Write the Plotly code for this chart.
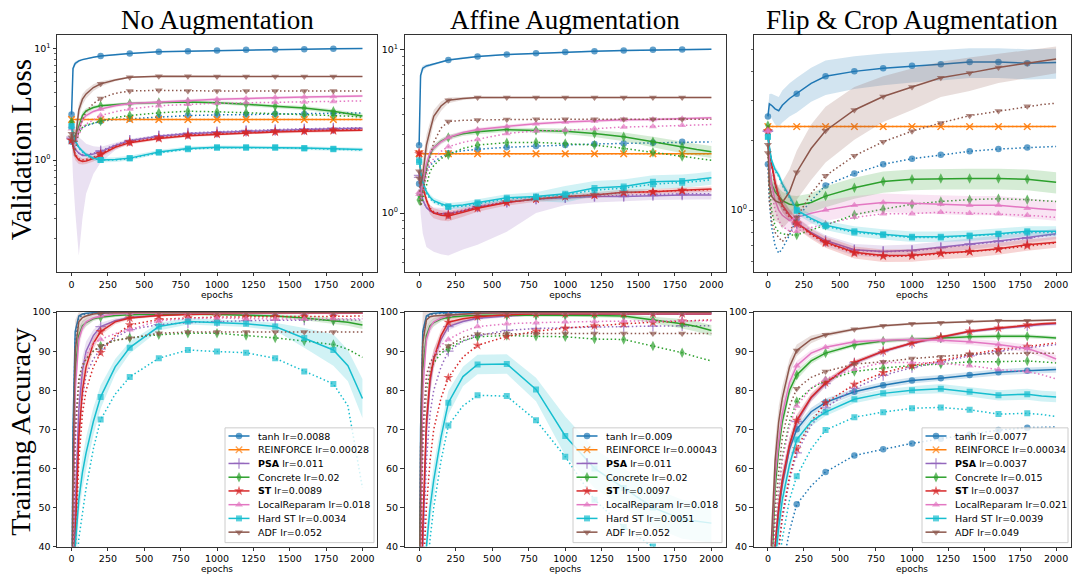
import plotly.graph_objects as go

# ---------------- data ----------------
EP = [0, 10, 25, 50, 75, 100, 150, 200, 300, 400, 600, 800, 1000, 1200, 1400, 1600, 1800, 1900, 2000]
MARK_EP = [0, 200, 400, 600, 800, 1000, 1200, 1400, 1600, 1800]
XTICKS = [0, 250, 500, 750, 1000, 1250, 1500, 1750, 2000]

METHODS = ["tanh", "REINFORCE", "PSA", "Concrete", "ST", "LocalReparam", "Hard ST", "ADF"]
LR_NOAUG = ["0.0088", "0.00028", "0.011", "0.02", "0.0089", "0.018", "0.0034", "0.052"]
LR_AFFINE = ["0.009", "0.00043", "0.011", "0.02", "0.0097", "0.018", "0.0051", "0.052"]
LR_FLIP = ["0.0077", "0.00034", "0.0037", "0.015", "0.0037", "0.021", "0.0039", "0.049"]
TITLES = ["No Augmentation", "Affine Augmentation", "Flip & Crop Augmentation"]

# ---- panel 1: No Augmentation, validation loss ----
p1_tanh = [2.55, 6.6, 7.3, 7.7, 7.9, 8.05, 8.3, 8.5, 8.8, 8.98, 9.3, 9.41, 9.54, 9.67, 9.73, 9.8, 9.86, 9.9, 9.93]
p1_tanh_dot = [1.46, 1.55, 1.7, 1.85, 1.95, 2.02, 2.12, 2.23, 2.3, 2.34, 2.42, 2.5, 2.53, 2.55, 2.58, 2.58, 2.62, 2.63, 2.64]
p1_tanh_band = [0.05, 0.5, 0.3, 0.2, 0.15, 0.12, 0.1, 0.1, 0.1, 0.1, 0.1, 0.1, 0.1, 0.1, 0.1, 0.1, 0.1, 0.1, 0.1]
p1_rf = [2.303, 2.303, 2.303, 2.303, 2.303, 2.303, 2.303, 2.303, 2.303, 2.303, 2.303, 2.303, 2.303, 2.303, 2.303, 2.303, 2.303, 2.303, 2.303]
p1_rf_dot = [2.303, 2.303, 2.303, 2.303, 2.303, 2.303, 2.303, 2.303, 2.303, 2.303, 2.303, 2.303, 2.303, 2.303, 2.303, 2.303, 2.303, 2.303, 2.303]
p1_rf_band = [0.01, 0.01, 0.01, 0.01, 0.01, 0.01, 0.01, 0.01, 0.01, 0.01, 0.01, 0.01, 0.01, 0.01, 0.01, 0.01, 0.01, 0.01, 0.01]
p1_psa = [1.6, 1.4, 1.25, 1.15, 1.1, 1.1, 1.13, 1.19, 1.35, 1.49, 1.63, 1.72, 1.76, 1.81, 1.84, 1.87, 1.9, 1.91, 1.92]
p1_psa_dot = [1.55, 1.38, 1.24, 1.15, 1.12, 1.12, 1.15, 1.21, 1.37, 1.5, 1.65, 1.74, 1.79, 1.84, 1.87, 1.9, 1.93, 1.94, 1.95]
p1_psa_band = [0.1, 0.3, 0.4, 0.45, 0.4, 0.3, 0.2, 0.12, 0.08, 0.06, 0.05, 0.05, 0.05, 0.05, 0.05, 0.05, 0.05, 0.05, 0.05]
p1_psa_lo = [1.5, 0.7, 0.35, 0.14, 0.3, 0.5, 0.75, 0.95, 1.22, 1.42, 1.57, 1.67, 1.71, 1.76, 1.79, 1.82, 1.85, 1.86, 1.87]
p1_con = [2.2, 1.7, 1.6, 2.0, 2.5, 2.75, 2.95, 3.06, 3.15, 3.2, 3.26, 3.31, 3.25, 3.16, 3.02, 2.92, 2.73, 2.6, 2.48]
p1_con_dot = [2.1, 1.7, 1.55, 1.75, 1.95, 2.05, 2.15, 2.23, 2.4, 2.5, 2.64, 2.73, 2.7, 2.65, 2.6, 2.55, 2.5, 2.47, 2.42]
p1_con_band = [0.1, 0.2, 0.2, 0.2, 0.2, 0.15, 0.12, 0.1, 0.1, 0.1, 0.1, 0.1, 0.1, 0.12, 0.12, 0.12, 0.12, 0.12, 0.12]
p1_st = [1.5, 1.3, 1.1, 1.0, 0.97, 0.98, 1.03, 1.11, 1.3, 1.43, 1.56, 1.65, 1.7, 1.75, 1.78, 1.81, 1.83, 1.84, 1.85]
p1_st_dot = [1.5, 1.32, 1.12, 1.02, 1.0, 1.01, 1.06, 1.14, 1.32, 1.45, 1.58, 1.67, 1.72, 1.77, 1.8, 1.83, 1.86, 1.87, 1.88]
p1_st_band = [0.05, 0.1, 0.1, 0.08, 0.06, 0.06, 0.06, 0.06, 0.05, 0.05, 0.05, 0.05, 0.05, 0.05, 0.05, 0.05, 0.05, 0.05, 0.05]
p1_lr = [2.0, 1.6, 1.5, 1.9, 2.3, 2.5, 2.72, 2.86, 3.05, 3.2, 3.31, 3.43, 3.5, 3.55, 3.62, 3.66, 3.7, 3.72, 3.74]
p1_lr_dot = [1.9, 1.55, 1.45, 1.7, 1.95, 2.1, 2.3, 2.5, 2.7, 2.86, 3.06, 3.16, 3.22, 3.25, 3.28, 3.3, 3.33, 3.36, 3.38]
p1_lr_band = [0.1, 0.2, 0.2, 0.2, 0.15, 0.12, 0.1, 0.1, 0.1, 0.1, 0.1, 0.1, 0.1, 0.1, 0.1, 0.1, 0.1, 0.1, 0.1]
p1_hst = [2.0, 1.7, 1.5, 1.3, 1.2, 1.12, 1.04, 1.0, 1.01, 1.04, 1.18, 1.27, 1.3, 1.3, 1.3, 1.28, 1.26, 1.25, 1.24]
p1_hst_dot = [2.0, 1.68, 1.48, 1.28, 1.18, 1.1, 1.03, 1.0, 1.0, 1.03, 1.16, 1.25, 1.29, 1.29, 1.29, 1.27, 1.25, 1.24, 1.23]
p1_hst_band = [0.05, 0.05, 0.05, 0.05, 0.05, 0.05, 0.05, 0.05, 0.05, 0.05, 0.05, 0.05, 0.05, 0.05, 0.05, 0.05, 0.05, 0.05, 0.05]
p1_adf = [1.72, 1.5, 1.45, 2.8, 3.5, 3.9, 4.45, 4.8, 5.2, 5.5, 5.6, 5.6, 5.58, 5.58, 5.58, 5.58, 5.58, 5.58, 5.58]
p1_adf_dot = [1.6, 1.3, 1.2, 1.8, 2.3, 2.7, 3.2, 3.55, 3.95, 4.14, 4.2, 4.14, 4.14, 4.14, 4.14, 4.14, 4.14, 4.14, 4.14]
p1_adf_band = [0.2, 0.4, 0.4, 0.4, 0.4, 0.35, 0.3, 0.25, 0.15, 0.1, 0.08, 0.05, 0.05, 0.05, 0.05, 0.05, 0.05, 0.05, 0.05]

# ---- panel 2: Affine Augmentation, validation loss ----
p2_tanh = [2.59, 6.9, 7.66, 7.9, 8.0, 8.09, 8.35, 8.59, 8.85, 9.03, 9.29, 9.46, 9.6, 9.73, 9.82, 9.91, 9.95, 9.98, 10.0]
p2_tanh_dot = [1.51, 1.5, 1.6, 1.8, 1.95, 2.05, 2.2, 2.32, 2.4, 2.45, 2.52, 2.57, 2.6, 2.64, 2.66, 2.69, 2.72, 2.72, 2.72]
p2_tanh_band = [0.05, 0.5, 0.3, 0.2, 0.15, 0.12, 0.1, 0.1, 0.1, 0.1, 0.1, 0.1, 0.1, 0.1, 0.1, 0.1, 0.1, 0.1, 0.1]
p2_rf = [2.303, 2.303, 2.303, 2.303, 2.303, 2.303, 2.303, 2.303, 2.303, 2.303, 2.303, 2.303, 2.303, 2.303, 2.303, 2.303, 2.303, 2.303, 2.303]
p2_rf_dot = [2.303, 2.303, 2.303, 2.303, 2.303, 2.303, 2.303, 2.303, 2.303, 2.303, 2.303, 2.303, 2.303, 2.303, 2.303, 2.303, 2.303, 2.303, 2.303]
p2_rf_band = [0.01, 0.01, 0.01, 0.01, 0.01, 0.01, 0.01, 0.01, 0.01, 0.01, 0.01, 0.01, 0.01, 0.01, 0.01, 0.01, 0.01, 0.01, 0.01]
p2_psa = [1.7, 1.4, 1.2, 1.08, 1.03, 1.0, 0.99, 0.99, 1.03, 1.09, 1.16, 1.22, 1.24, 1.26, 1.26, 1.28, 1.29, 1.29, 1.29]
p2_psa_dot = [1.65, 1.38, 1.2, 1.08, 1.03, 1.0, 0.99, 1.0, 1.04, 1.1, 1.17, 1.22, 1.25, 1.27, 1.28, 1.3, 1.31, 1.31, 1.31]
p2_psa_band = [0.1, 0.2, 0.15, 0.1, 0.08, 0.08, 0.08, 0.08, 0.07, 0.06, 0.05, 0.05, 0.05, 0.05, 0.06, 0.07, 0.08, 0.08, 0.08]
p2_psa_lo = [1.6, 1.0, 0.75, 0.62, 0.6, 0.58, 0.56, 0.55, 0.6, 0.64, 0.77, 1.0, 1.12, 1.16, 1.18, 1.2, 1.21, 1.21, 1.21]
p2_con = [1.3, 1.25, 1.4, 1.9, 2.3, 2.5, 2.75, 2.89, 3.05, 3.13, 3.23, 3.2, 3.16, 3.06, 2.92, 2.72, 2.52, 2.44, 2.37]
p2_con_dot = [1.2, 1.1, 1.2, 1.5, 1.8, 1.95, 2.15, 2.27, 2.48, 2.6, 2.69, 2.7, 2.66, 2.6, 2.48, 2.35, 2.21, 2.15, 2.1]
p2_con_band = [0.05, 0.1, 0.15, 0.15, 0.15, 0.12, 0.1, 0.1, 0.1, 0.1, 0.1, 0.1, 0.12, 0.15, 0.18, 0.2, 0.2, 0.2, 0.2]
p2_st = [2.35, 1.8, 1.45, 1.2, 1.05, 1.0, 0.97, 0.96, 1.01, 1.07, 1.16, 1.22, 1.26, 1.29, 1.34, 1.35, 1.38, 1.39, 1.4]
p2_st_dot = [2.3, 1.75, 1.42, 1.2, 1.07, 1.02, 0.99, 0.98, 1.03, 1.08, 1.17, 1.22, 1.26, 1.29, 1.33, 1.35, 1.37, 1.38, 1.39]
p2_st_band = [0.05, 0.1, 0.1, 0.08, 0.07, 0.07, 0.07, 0.07, 0.06, 0.05, 0.05, 0.05, 0.05, 0.05, 0.05, 0.05, 0.05, 0.05, 0.05]
p2_lr = [1.34, 1.3, 1.5, 2.0, 2.35, 2.5, 2.72, 2.89, 3.1, 3.24, 3.38, 3.51, 3.59, 3.64, 3.71, 3.72, 3.76, 3.78, 3.81]
p2_lr_dot = [1.3, 1.2, 1.35, 1.7, 2.0, 2.15, 2.38, 2.54, 2.7, 2.81, 3.06, 3.17, 3.2, 3.27, 3.35, 3.38, 3.43, 3.45, 3.47]
p2_lr_band = [0.05, 0.1, 0.15, 0.15, 0.15, 0.12, 0.1, 0.1, 0.08, 0.08, 0.08, 0.08, 0.08, 0.08, 0.08, 0.08, 0.08, 0.08, 0.08]
p2_hst = [2.1, 1.8, 1.55, 1.35, 1.25, 1.19, 1.14, 1.1, 1.12, 1.16, 1.24, 1.26, 1.31, 1.42, 1.45, 1.55, 1.57, 1.6, 1.64]
p2_hst_dot = [2.05, 1.75, 1.5, 1.32, 1.22, 1.17, 1.12, 1.09, 1.1, 1.14, 1.22, 1.25, 1.29, 1.38, 1.42, 1.5, 1.53, 1.56, 1.6]
p2_hst_band = [0.05, 0.05, 0.05, 0.05, 0.05, 0.05, 0.05, 0.05, 0.05, 0.05, 0.06, 0.08, 0.15, 0.15, 0.15, 0.15, 0.15, 0.15, 0.15]
p2_adf = [1.8, 1.46, 1.7, 2.6, 3.2, 3.9, 4.5, 4.88, 5.0, 5.07, 5.07, 5.07, 5.07, 5.07, 5.07, 5.07, 5.07, 5.07, 5.07]
p2_adf_dot = [1.63, 1.11, 1.3, 1.8, 2.2, 2.7, 3.3, 3.62, 3.68, 3.7, 3.72, 3.73, 3.74, 3.74, 3.74, 3.74, 3.74, 3.74, 3.74]
p2_adf_band = [0.2, 0.3, 0.4, 0.4, 0.4, 0.35, 0.3, 0.2, 0.1, 0.08, 0.06, 0.05, 0.05, 0.05, 0.05, 0.05, 0.05, 0.05, 0.05]

# ---- panel 3: Flip & Crop Augmentation, validation loss ----
p3_tanh = [2.55, 2.89, 2.85, 2.75, 2.7, 2.85, 3.05, 3.2, 3.55, 3.81, 4.0, 4.13, 4.23, 4.3, 4.39, 4.39, 4.34, 4.35, 4.37]
p3_tanh_dot = [1.58, 1.1, 0.85, 0.7, 0.65, 0.68, 0.78, 0.92, 1.1, 1.28, 1.44, 1.58, 1.67, 1.74, 1.8, 1.84, 1.87, 1.88, 1.89]
p3_tanh_band = [0.1, 0.3, 0.35, 0.4, 0.4, 0.45, 0.5, 0.55, 0.6, 0.65, 0.65, 0.65, 0.65, 0.65, 0.65, 0.65, 0.65, 0.65, 0.65]
p3_rf = [2.303, 2.303, 2.303, 2.303, 2.303, 2.303, 2.303, 2.303, 2.303, 2.303, 2.303, 2.303, 2.303, 2.303, 2.303, 2.303, 2.303, 2.303, 2.303]
p3_rf_dot = [2.303, 2.303, 2.303, 2.303, 2.303, 2.303, 2.303, 2.303, 2.303, 2.303, 2.303, 2.303, 2.303, 2.303, 2.303, 2.303, 2.303, 2.303, 2.303]
p3_rf_band = [0.01, 0.01, 0.01, 0.01, 0.01, 0.01, 0.01, 0.01, 0.01, 0.01, 0.01, 0.01, 0.01, 0.01, 0.01, 0.01, 0.01, 0.01, 0.01]
p3_psa = [2.2, 1.85, 1.6, 1.3, 1.15, 1.05, 0.95, 0.88, 0.8, 0.738, 0.673, 0.662, 0.669, 0.689, 0.714, 0.735, 0.76, 0.775, 0.79]
p3_psa_dot = [2.2, 1.83, 1.58, 1.28, 1.13, 1.03, 0.93, 0.87, 0.79, 0.73, 0.67, 0.66, 0.665, 0.685, 0.71, 0.73, 0.755, 0.77, 0.785]
p3_psa_band = [0.05, 0.1, 0.1, 0.1, 0.08, 0.07, 0.06, 0.05, 0.04, 0.04, 0.04, 0.04, 0.04, 0.04, 0.04, 0.04, 0.04, 0.04, 0.04]
p3_con = [2.33, 1.6, 1.3, 1.2, 1.15, 1.1, 1.06, 1.05, 1.08, 1.15, 1.25, 1.33, 1.36, 1.37, 1.37, 1.37, 1.36, 1.34, 1.32]
p3_con_dot = [2.2, 1.3, 1.0, 0.85, 0.8, 0.79, 0.78, 0.78, 0.82, 0.86, 0.955, 1.01, 1.06, 1.09, 1.11, 1.12, 1.11, 1.1, 1.09]
p3_con_band = [0.1, 0.15, 0.12, 0.1, 0.1, 0.1, 0.1, 0.1, 0.1, 0.12, 0.13, 0.14, 0.14, 0.14, 0.14, 0.14, 0.14, 0.14, 0.14]
p3_st = [2.2, 1.85, 1.6, 1.32, 1.15, 1.05, 0.95, 0.88, 0.79, 0.726, 0.656, 0.635, 0.637, 0.652, 0.662, 0.68, 0.707, 0.715, 0.726]
p3_st_dot = [2.2, 1.83, 1.58, 1.3, 1.13, 1.03, 0.93, 0.87, 0.78, 0.72, 0.65, 0.63, 0.632, 0.648, 0.66, 0.676, 0.7, 0.71, 0.72]
p3_st_band = [0.05, 0.1, 0.1, 0.1, 0.08, 0.07, 0.05, 0.05, 0.04, 0.04, 0.04, 0.04, 0.04, 0.04, 0.04, 0.04, 0.04, 0.04, 0.04]
p3_lr = [2.22, 1.6, 1.3, 1.1, 1.0, 0.95, 0.9, 0.93, 0.97, 1.0, 1.05, 1.08, 1.07, 1.06, 1.05, 1.05, 1.02, 1.01, 1.0]
p3_lr_dot = [2.2, 1.5, 1.2, 1.0, 0.9, 0.85, 0.81, 0.81, 0.84, 0.87, 0.93, 0.965, 0.965, 0.98, 0.97, 0.965, 0.95, 0.94, 0.93]
p3_lr_band = [0.05, 0.1, 0.1, 0.1, 0.1, 0.1, 0.1, 0.1, 0.1, 0.1, 0.1, 0.1, 0.1, 0.1, 0.1, 0.1, 0.1, 0.1, 0.1]
p3_hst = [2.08, 1.85, 1.65, 1.5, 1.42, 1.3, 1.15, 1.0, 0.92, 0.86, 0.81, 0.785, 0.767, 0.767, 0.775, 0.79, 0.81, 0.81, 0.81]
p3_hst_dot = [2.08, 1.83, 1.63, 1.48, 1.4, 1.28, 1.13, 0.99, 0.91, 0.85, 0.8, 0.78, 0.76, 0.76, 0.77, 0.785, 0.8, 0.8, 0.8]
p3_hst_band = [0.05, 0.05, 0.05, 0.05, 0.05, 0.05, 0.04, 0.04, 0.04, 0.04, 0.04, 0.04, 0.04, 0.04, 0.04, 0.04, 0.04, 0.04, 0.04]
p3_adf = [1.92, 1.3, 1.15, 1.1, 1.08, 1.08, 1.2, 1.46, 1.85, 2.21, 2.72, 3.11, 3.42, 3.75, 3.94, 4.16, 4.34, 4.44, 4.53]
p3_adf_dot = [1.77, 1.1, 0.9, 0.8, 0.76, 0.73, 0.8, 0.93, 1.18, 1.41, 1.72, 1.98, 2.2, 2.39, 2.57, 2.69, 2.82, 2.87, 2.91]
p3_adf_band = [0.1, 0.2, 0.2, 0.2, 0.2, 0.25, 0.3, 0.35, 0.5, 0.6, 0.7, 0.7, 0.7, 0.65, 0.65, 0.6, 0.6, 0.6, 0.6]

# ---- panel 4: No Augmentation, training accuracy ----
p4_tanh = [10, 70, 95, 99, 99.5, 99.7, 99.8, 99.9, 99.9, 99.9, 99.9, 99.9, 99.9, 99.9, 99.9, 99.9, 99.9, 99.9, 99.9]
p4_tanh_dot = [10, 65, 93, 98.5, 99.2, 99.5, 99.7, 99.8, 99.9, 99.9, 99.9, 99.9, 99.9, 99.9, 99.9, 99.9, 99.9, 99.9, 99.9]
p4_tanh_band = [0.5, 2, 1, 0.3, 0.2, 0.1, 0.1, 0.1, 0.1, 0.1, 0.1, 0.1, 0.1, 0.1, 0.1, 0.1, 0.1, 0.1, 0.1]
p4_rf = [10, 10, 10, 10, 10, 10, 10, 10, 10, 10, 10, 10, 10, 10, 10, 10, 10, 10, 10]
p4_rf_dot = [10, 10, 10, 10, 10, 10, 10, 10, 10, 10, 10, 10, 10, 10, 10, 10, 10, 10, 10]
p4_rf_band = [0.1, 0.1, 0.1, 0.1, 0.1, 0.1, 0.1, 0.1, 0.1, 0.1, 0.1, 0.1, 0.1, 0.1, 0.1, 0.1, 0.1, 0.1, 0.1]
p4_psa = [10, 25, 50, 75, 85, 90, 94, 96.3, 97.8, 98.6, 99.2, 99.5, 99.6, 99.7, 99.7, 99.7, 99.7, 99.7, 99.7]
p4_psa_dot = [10, 22, 45, 68, 78, 84, 88, 90.5, 93.5, 95.5, 96.8, 97.3, 97.6, 97.8, 97.9, 98, 98, 98, 98]
p4_psa_band = [0.5, 4, 6, 5, 3.5, 2.5, 1.5, 1, 0.6, 0.4, 0.3, 0.2, 0.2, 0.2, 0.2, 0.2, 0.2, 0.2, 0.2]
p4_con = [10, 50, 85, 94, 96.5, 97.3, 98.3, 98.7, 99.1, 99.3, 99.5, 99.5, 99.4, 99.2, 99, 98.5, 97.8, 97.4, 96.7]
p4_con_dot = [10, 35, 68, 82, 86, 88, 90, 91.3, 92.8, 93.4, 94.2, 94.6, 94.6, 94, 93.4, 92.6, 91.7, 90.5, 88.4]
p4_con_band = [0.5, 8, 5, 2, 1.2, 1, 0.6, 0.5, 0.4, 0.3, 0.3, 0.3, 0.3, 0.3, 0.4, 0.6, 0.8, 0.9, 1.0]
p4_st = [10, 20, 42, 68, 80, 86, 92, 95, 97.5, 98.5, 99.1, 99.4, 99.6, 99.7, 99.7, 99.7, 99.7, 99.7, 99.7]
p4_st_dot = [10, 18, 38, 62, 74, 80, 86, 89.6, 94, 96.7, 98.1, 98.5, 98.7, 98.8, 98.8, 98.9, 98.9, 99, 99]
p4_st_band = [0.5, 4, 6, 5, 3.5, 2.5, 1.5, 1, 0.6, 0.4, 0.3, 0.2, 0.2, 0.2, 0.2, 0.2, 0.2, 0.2, 0.2]
p4_lr = [10, 45, 80, 93, 96, 97.5, 98.5, 99, 99.5, 99.7, 99.8, 99.8, 99.8, 99.8, 99.8, 99.8, 99.8, 99.8, 99.8]
p4_lr_dot = [10, 35, 65, 80, 86, 89, 92, 93, 94.5, 95.5, 97.8, 98.3, 98.5, 98.3, 98.2, 98.2, 98.3, 98.3, 98.3]
p4_lr_band = [0.5, 8, 6, 2.5, 1.5, 1, 0.6, 0.4, 0.3, 0.2, 0.2, 0.2, 0.2, 0.2, 0.2, 0.2, 0.2, 0.2, 0.2]
p4_hst = [10, 25, 40, 52, 59, 64, 72, 78.3, 86, 90.9, 96.3, 97.6, 97.3, 97, 96.3, 93.4, 90.3, 86.3, 77.9]
p4_hst_dot = [10, 22, 30, 42, 49, 55, 65, 72.5, 79, 83.4, 88.2, 90.3, 89.9, 89.6, 88.2, 84.8, 81.6, 76, 55]
p4_hst_band = [1, 3, 4, 4, 4, 4, 3.5, 3, 2, 1.5, 1, 0.8, 0.8, 0.8, 1, 2.5, 4, 4, 5]
p4_adf = [10, 60, 90, 97.5, 98.6, 99, 99.5, 99.7, 99.8, 99.9, 99.9, 99.9, 99.9, 99.9, 99.9, 99.9, 99.9, 99.9, 99.9]
p4_adf_dot = [10, 40, 70, 83, 86.5, 88, 90, 91.3, 92.8, 93.3, 94.6, 94.9, 94.9, 94.9, 94.9, 94.9, 94.9, 94.9, 94.9]
p4_adf_band = [1, 15, 8, 2.5, 1.2, 0.8, 0.5, 0.3, 0.2, 0.1, 0.1, 0.1, 0.1, 0.1, 0.1, 0.1, 0.1, 0.1, 0.1]

# ---- panel 5: Affine Augmentation, training accuracy ----
p5_tanh = [10, 70, 95, 99, 99.5, 99.7, 99.8, 99.9, 99.9, 99.9, 99.9, 99.9, 99.9, 99.9, 99.9, 99.9, 99.9, 99.9, 99.9]
p5_tanh_dot = [10, 65, 93, 98.5, 99.2, 99.5, 99.7, 99.8, 99.9, 99.9, 99.9, 99.9, 99.9, 99.9, 99.9, 99.9, 99.9, 99.9, 99.9]
p5_tanh_band = [0.5, 2, 1, 0.3, 0.2, 0.1, 0.1, 0.1, 0.1, 0.1, 0.1, 0.1, 0.1, 0.1, 0.1, 0.1, 0.1, 0.1, 0.1]
p5_rf = [10, 10, 10, 10, 10, 10, 10, 10, 10, 10, 10, 10, 10, 10, 10, 10, 10, 10, 10]
p5_rf_dot = [10, 10, 10, 10, 10, 10, 10, 10, 10, 10, 10, 10, 10, 10, 10, 10, 10, 10, 10]
p5_rf_band = [0.1, 0.1, 0.1, 0.1, 0.1, 0.1, 0.1, 0.1, 0.1, 0.1, 0.1, 0.1, 0.1, 0.1, 0.1, 0.1, 0.1, 0.1, 0.1]
p5_psa = [10, 22, 45, 70, 82, 88, 93, 96.3, 97.6, 98.4, 99, 99.3, 99.4, 99.5, 99.5, 99.5, 99.5, 99.5, 99.5]
p5_psa_dot = [10, 20, 40, 62, 74, 80, 86, 90, 92.5, 94, 95.3, 95.8, 96, 96.2, 96.3, 96.4, 96.5, 96.5, 96.5]
p5_psa_band = [0.5, 4, 6, 5, 3.5, 2.5, 1.5, 1, 0.6, 0.4, 0.3, 0.2, 0.2, 0.2, 0.2, 0.2, 0.2, 0.2, 0.2]
p5_con = [10, 50, 85, 94, 96.5, 97.3, 98.2, 98.7, 99, 99.2, 99.2, 99.2, 99.2, 99.1, 99, 98, 97, 96.3, 95.3]
p5_con_dot = [10, 35, 65, 80, 85, 87, 89.5, 90.7, 92.7, 93.7, 94, 93.8, 93.7, 93.1, 93, 91.3, 89.6, 88.5, 87.5]
p5_con_band = [0.5, 8, 5, 2, 1.2, 1, 0.6, 0.5, 0.4, 0.3, 0.3, 0.3, 0.3, 0.4, 0.5, 0.8, 1.2, 1.3, 1.4]
p5_st = [10, 20, 45, 72, 83, 88, 94, 97.4, 98.3, 98.8, 99.3, 99.6, 99.6, 99.6, 99.6, 99.6, 99.6, 99.6, 99.6]
p5_st_dot = [10, 15, 30, 50, 62, 70, 78, 83.2, 88.5, 91.5, 93.8, 95.1, 95.9, 96.5, 97, 97.4, 97.7, 97.9, 98]
p5_st_band = [0.5, 4, 6, 5, 3.5, 2.5, 1.5, 1, 0.6, 0.4, 0.3, 0.2, 0.2, 0.2, 0.2, 0.2, 0.2, 0.2, 0.2]
p5_lr = [10, 45, 80, 93, 96, 97.5, 98.5, 99.2, 99.5, 99.7, 99.8, 99.8, 99.8, 99.8, 99.8, 99.8, 99.8, 99.8, 99.8]
p5_lr_dot = [10, 35, 65, 82, 87, 89, 91.5, 93, 95, 96.3, 97, 97.3, 97.5, 97.6, 97.7, 97.7, 97.8, 97.8, 97.8]
p5_lr_band = [0.5, 8, 6, 2.5, 1.5, 1, 0.6, 0.4, 0.3, 0.2, 0.2, 0.2, 0.2, 0.2, 0.2, 0.2, 0.2, 0.2, 0.2]
p5_hst = [10, 15, 25, 40, 50, 57, 68, 76.8, 83.5, 86.6, 86.7, 80.2, 68.3, 60, 55, 50, 47, 46.5, 46]
p5_hst_dot = [10, 12, 20, 32, 42, 50, 62, 71, 76, 78.7, 78.5, 72.3, 63, 52, 45, 40, 38, 37, 36]
p5_hst_band = [1, 2, 3, 4, 4, 4, 3, 3, 2.5, 2.5, 2.5, 3, 5, 5, 5, 5, 5, 5, 5]
p5_adf = [10, 65, 92, 98, 98.8, 99, 99.1, 99.2, 99.5, 99.7, 99.8, 99.9, 99.9, 99.9, 99.9, 99.9, 99.9, 99.9, 99.9]
p5_adf_dot = [10, 40, 70, 84, 87, 88.5, 90.2, 91.3, 93.5, 94.4, 94.5, 94.5, 94.5, 94.5, 94.5, 94.5, 94.5, 94.5, 94.5]
p5_adf_band = [1, 15, 8, 2.5, 1.2, 0.8, 0.5, 0.3, 0.2, 0.1, 0.1, 0.1, 0.1, 0.1, 0.1, 0.1, 0.1, 0.1, 0.1]

# ---- panel 6: Flip & Crop Augmentation, training accuracy ----
p6_tanh = [10, 15, 25, 40, 49, 56, 65, 70, 74.5, 76.9, 79.6, 81.3, 82.5, 83.1, 83.9, 84.6, 85, 85.2, 85.3]
p6_tanh_dot = [10, 12, 18, 25, 30, 35, 44, 50.8, 55.5, 59.1, 63.3, 64.9, 66.4, 67.6, 68.7, 69.8, 70.4, 70.5, 70.6]
p6_tanh_band = [0.5, 2, 2, 2, 2, 1.8, 1.5, 1.2, 1, 1, 0.8, 0.8, 0.8, 0.8, 0.8, 0.8, 0.8, 0.8, 0.8]
p6_rf = [10, 10, 10, 10, 10, 10, 10, 10, 10, 10, 10, 10, 10, 10, 10, 10, 10, 10, 10]
p6_rf_dot = [10, 10, 10, 10, 10, 10, 10, 10, 10, 10, 10, 10, 10, 10, 10, 10, 10, 10, 10]
p6_rf_band = [0.1, 0.1, 0.1, 0.1, 0.1, 0.1, 0.1, 0.1, 0.1, 0.1, 0.1, 0.1, 0.1, 0.1, 0.1, 0.1, 0.1, 0.1, 0.1]
p6_psa = [10, 15, 25, 40, 50, 57, 66, 72, 78, 81.7, 87, 89.9, 92, 93.5, 95, 95.8, 96.5, 96.8, 97]
p6_psa_dot = [10, 13, 20, 30, 40, 47, 57, 64, 71, 75.5, 80.5, 83.8, 85.8, 87.2, 88.8, 90, 90.9, 91.3, 91.7]
p6_psa_band = [0.5, 2, 3, 3, 3, 2.5, 2, 1.5, 1, 0.8, 0.6, 0.5, 0.4, 0.4, 0.4, 0.4, 0.4, 0.4, 0.4]
p6_con = [10, 20, 35, 55, 65, 72, 80, 83.9, 87.5, 89.5, 91.6, 92.6, 93, 93.4, 93.7, 93.8, 93.8, 93.6, 93.4]
p6_con_dot = [10, 18, 30, 45, 55, 63, 72, 77.1, 80.5, 82.5, 84.8, 85.7, 86.3, 86.7, 87.3, 87.3, 87.5, 87.2, 87]
p6_con_band = [0.5, 3, 4, 3, 2.5, 2, 1.5, 1.2, 0.8, 0.6, 0.5, 0.5, 0.5, 0.5, 0.5, 0.5, 0.5, 0.5, 0.5]
p6_st = [10, 15, 25, 40, 50, 57, 66, 72.3, 78.2, 81.9, 87.1, 90, 92.1, 93.6, 95.1, 95.9, 96.7, 97, 97.2]
p6_st_dot = [10, 13, 20, 30, 40, 48, 58, 65, 72, 76.8, 81.5, 84.5, 86.3, 87.5, 89.2, 90.4, 91.2, 91.7, 92.1]
p6_st_band = [0.5, 2, 3, 3, 3, 2.5, 2, 1.5, 1, 0.8, 0.6, 0.5, 0.4, 0.4, 0.4, 0.4, 0.4, 0.4, 0.4]
p6_lr = [10, 22, 38, 58, 67, 74, 82, 86.3, 89.5, 91, 92.4, 92.8, 93, 92.8, 92.4, 91.7, 90.7, 89.5, 88]
p6_lr_dot = [10, 15, 28, 45, 55, 62, 71, 76, 80.5, 82.9, 85.4, 87.1, 87.1, 86.9, 86.3, 85.3, 84.8, 84, 82.9]
p6_lr_band = [0.5, 3, 4, 3, 2.5, 2, 1.5, 1.2, 0.8, 0.6, 0.5, 0.5, 0.6, 0.7, 0.8, 0.9, 1.0, 1.0, 1.0]
p6_hst = [10, 13, 22, 36, 45, 52, 61, 67.4, 72, 74.4, 77.7, 79.2, 80, 80.4, 79.6, 78.7, 79, 78.5, 78.3]
p6_hst_dot = [10, 12, 18, 28, 36, 42, 52, 58, 65, 69.8, 73.1, 74.4, 75.4, 75.6, 75, 73.9, 74.1, 73.8, 73.3]
p6_hst_band = [0.5, 2, 3, 3, 3, 2.5, 2, 1.5, 1.2, 1, 1, 1, 1, 1.2, 1.2, 1.3, 1.4, 1.4, 1.4]
p6_adf = [10, 25, 42, 62, 72, 78, 86, 90.2, 93, 94.2, 95.6, 96.5, 97, 97.3, 97.6, 97.8, 97.8, 97.9, 98]
p6_adf_dot = [10, 20, 35, 50, 60, 68, 76, 80.4, 83.3, 84.8, 86.7, 87.3, 88.1, 88.6, 89.2, 89.4, 89.4, 89.5, 89.5]
p6_adf_band = [0.5, 5, 6, 5, 4, 3, 2, 1.5, 1, 0.6, 0.4, 0.3, 0.3, 0.3, 0.3, 0.3, 0.3, 0.3, 0.3]

# ---------------- styles ----------------
COLORS = ["#1f77b4", "#ff7f0e", "#9467bd", "#2ca02c", "#d62728", "#e377c2", "#17becf", "#8c564b"]
SYMBOLS = ["circle", "x-thin", "cross-thin", "diamond-tall", "star", "triangle-up", "square", "triangle-down"]
MSIZE = [6.5, 6.5, 7.5, 7.5, 7.5, 7, 6, 7]
FONT = "DejaVu Sans"
SERIF = "Liberation Serif"
DOTTED = "1.5px,2.5px"


def rgba(hexc, a):
    h = hexc.lstrip("#")
    return "rgba(%d,%d,%d,%s)" % (int(h[0:2], 16), int(h[2:4], 16), int(h[4:6], 16), a)


def series(prefix):
    keys = ["tanh", "rf", "psa", "con", "st", "lr", "hst", "adf"]
    g = globals()
    out = []
    for k in keys:
        out.append(dict(solid=g[prefix + "_" + k], dot=g[prefix + "_" + k + "_dot"],
                        band=g[prefix + "_" + k + "_band"], lo=g.get(prefix + "_" + k + "_lo")))
    return out


PANELS = [series("p%d" % i) for i in range(1, 7)]
LRS = [LR_NOAUG, LR_AFFINE, LR_FLIP]

fig = go.Figure()
msizes = [1 if e in MARK_EP else 0 for e in EP]

for pi, panel in enumerate(PANELS):
    ax = "" if pi == 0 else str(pi + 1)
    xa, ya = "x" + ax, "y" + ax
    for mi, s in enumerate(panel):
        col = COLORS[mi]
        hi = [v + b for v, b in zip(s["solid"], s["band"])]
        lo = s["lo"] if s["lo"] is not None else [v - b for v, b in zip(s["solid"], s["band"])]
        fig.add_trace(go.Scatter(x=EP + EP[::-1], y=hi + lo[::-1], fill="toself",
                                 fillcolor=rgba(col, 0.2), line=dict(width=0), mode="lines",
                                 hoverinfo="skip", xaxis=xa, yaxis=ya, showlegend=False))
        thin = SYMBOLS[mi] in ("x-thin", "cross-thin")
        for key, dash in (("solid", "solid"), ("dot", DOTTED)):
            fig.add_trace(go.Scatter(
                x=EP, y=s[key], mode="lines+markers", xaxis=xa, yaxis=ya, showlegend=False,
                line=dict(color=col, width=1.5, dash=dash),
                marker=dict(symbol=SYMBOLS[mi], size=[m * MSIZE[mi] for m in msizes], color=col,
                            line=dict(color=col, width=1.3 if thin else 0))))

# ---------------- axes ----------------
XDOM = [[57 / 1075, 377 / 1075], [404.5 / 1075, 726 / 1075], [753.5 / 1075, 1070.5 / 1075]]
YDOM_TOP = [(581 - 271) / 581, (581 - 30) / 581]
YDOM_BOT = [(581 - 551) / 581, (581 - 312) / 581]
LOG_RANGES = [[-1.0, 1.114], [-0.359, 1.084], [-0.268, 0.758]]
LOG_TICKS = [[1, 10], [1, 10], [1]]
LOG_MINOR = [[0.2, 0.3, 0.4, 0.5, 0.6, 0.7, 0.8, 0.9, 2, 3, 4, 5, 6, 7, 8, 9],
             [0.5, 0.6, 0.7, 0.8, 0.9, 2, 3, 4, 5, 6, 7, 8, 9],
             [0.6, 0.7, 0.8, 0.9, 2, 3, 4, 5]]

axcommon = dict(showline=True, mirror=True, linecolor="#333333", linewidth=1, showgrid=False,
                zeroline=False, ticks="outside", ticklen=3.5, tickwidth=0.8, tickcolor="#000",
                tickfont=dict(family=FONT, size=9.5, color="#000"))
lay = {}
for pi in range(6):
    n = "" if pi == 0 else str(pi + 1)
    col = pi % 3
    top = pi < 3
    lay["xaxis" + n] = dict(axcommon, domain=XDOM[col], range=[-100, 2100], tickmode="array",
                            tickvals=XTICKS, anchor="y" + n,
                            title=dict(text="epochs", standoff=1, font=dict(family=FONT, size=9, color="#000")))
    if top:
        lay["yaxis" + n] = dict(axcommon, domain=YDOM_TOP, type="log", range=LOG_RANGES[col],
                                tickmode="array", tickvals=LOG_TICKS[col],
                                ticktext=["10<sup>0</sup>", "10<sup>1</sup>"][:len(LOG_TICKS[col])],
                                minor=dict(tickmode="array", tickvals=LOG_MINOR[col], ticks="outside",
                                           ticklen=2, tickwidth=0.6, tickcolor="#000"),
                                anchor="x" + n)
    else:
        lay["yaxis" + n] = dict(axcommon, domain=YDOM_BOT, range=[40, 100], tickmode="array",
                                tickvals=[40, 50, 60, 70, 80, 90, 100], anchor="x" + n)

# overlay pixel-coordinate axes for the legends
lay["xaxis7"] = dict(domain=[0, 1], range=[0, 1075], visible=False, anchor="y7", fixedrange=True)
lay["yaxis7"] = dict(domain=[0, 1], range=[581, 0], visible=False, anchor="x7", fixedrange=True)

annotations = []
TITLE_X = [217, 565, 912]
for i, t in enumerate(TITLES):
    annotations.append(dict(text=t, x=TITLE_X[i] / 1075, y=(581 - 14) / 581, xref="paper", yref="paper",
                            showarrow=False, xanchor="center", yanchor="middle",
                            font=dict(family=SERIF, size=27, color="#000")))
annotations.append(dict(text="Validation Loss", x=21 / 1075, y=(581 - 147) / 581, xref="paper", yref="paper",
                        showarrow=False, textangle=-90, xanchor="center", yanchor="middle",
                        font=dict(family=SERIF, size=29, color="#000")))
annotations.append(dict(text="Training Accuracy", x=21 / 1075, y=(581 - 434) / 581, xref="paper", yref="paper",
                        showarrow=False, textangle=-90, xanchor="center", yanchor="middle",
                        font=dict(family=SERIF, size=28, color="#000")))

# legends (lower right of each accuracy panel)
LEG_BOX = [(225, 374), (573, 722), (922, 1068)]
LEG_TOP, LEG_BOT = 430, 547
for li, (L, R) in enumerate(LEG_BOX):
    fig.add_trace(go.Scatter(x=[L, R, R, L, L], y=[LEG_TOP, LEG_TOP, LEG_BOT, LEG_BOT, LEG_TOP],
                             fill="toself", fillcolor="rgba(255,255,255,0.8)", mode="lines",
                             line=dict(color="#cccccc", width=1), xaxis="x7", yaxis="y7",
                             showlegend=False, hoverinfo="skip"))
    for mi, name in enumerate(METHODS):
        yc = 438.3 + 14 * mi
        col = COLORS[mi]
        thin = SYMBOLS[mi] in ("x-thin", "cross-thin")
        fig.add_trace(go.Scatter(x=[L + 3.5, L + 14, L + 24.5], y=[yc, yc, yc], mode="lines+markers",
                                 line=dict(color=col, width=1.5),
                                 marker=dict(symbol=SYMBOLS[mi], size=[0, MSIZE[mi], 0], color=col,
                                             line=dict(color=col, width=1.3 if thin else 0)),
                                 xaxis="x7", yaxis="y7", showlegend=False, hoverinfo="skip"))
        label = ("<b>%s</b>" % name) if name in ("PSA", "ST") else name
        annotations.append(dict(text="%s lr=%s" % (label, LRS[li][mi]), x=L + 31, y=yc, xref="x7", yref="y7",
                                showarrow=False, xanchor="left", yanchor="middle",
                                font=dict(family=FONT, size=9.5, color="#000")))

fig.update_layout(width=1075, height=581, margin=dict(l=0, r=0, t=0, b=0),
                  paper_bgcolor="white", plot_bgcolor="rgba(0,0,0,0)", showlegend=False,
                  annotations=annotations, **lay)

fig.write_html("out.html", config={"displayModeBar": False, "staticPlot": True},
               post_script="document.body.style.margin='0';document.body.style.padding='0';")
